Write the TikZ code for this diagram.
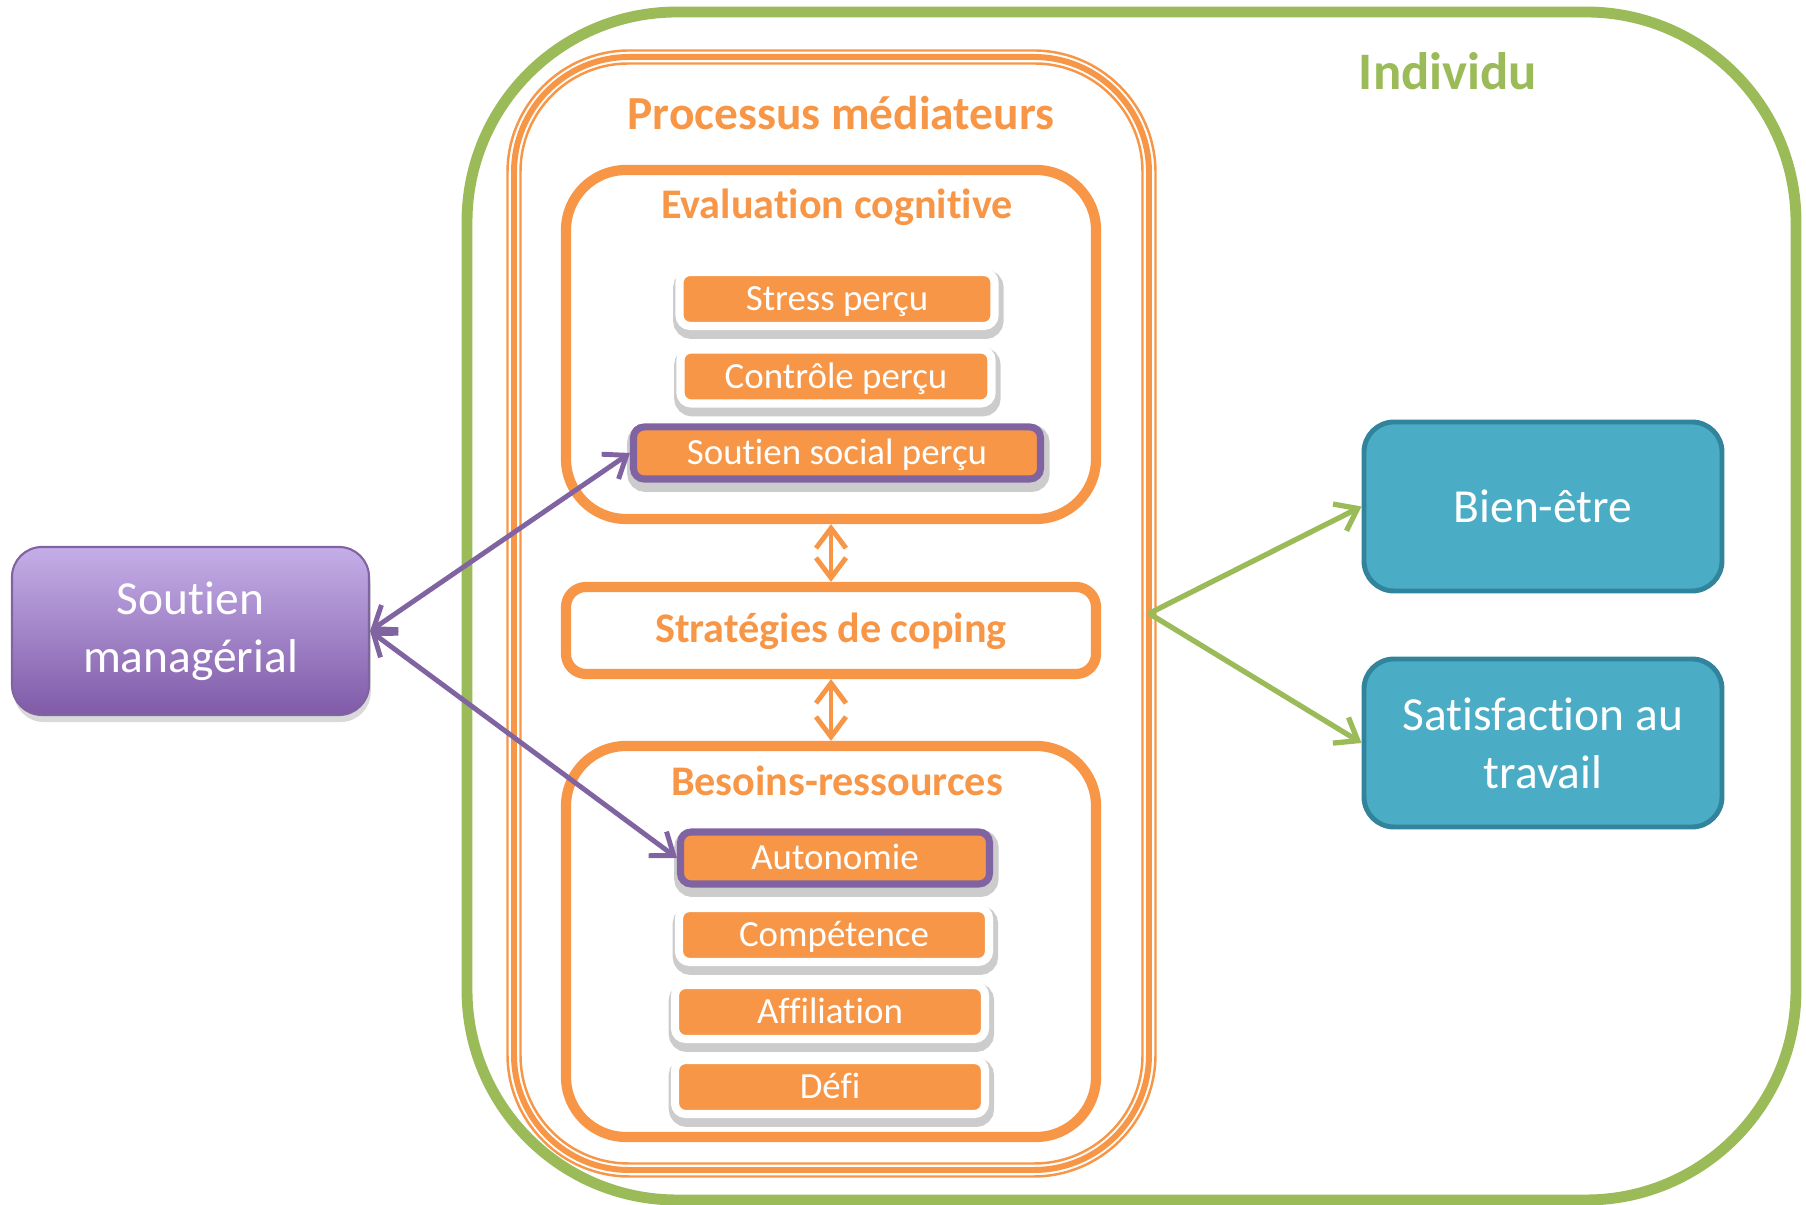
\documentclass[tikz,border=0pt]{standalone}
\usepackage{fontspec}
\setmainfont{Carlito}[Ligatures=NoCommon]
\usepackage{tikz}
\usetikzlibrary{
  arrows.meta,
  positioning,
  shadows
}

\definecolor{accorange}{HTML}{F79646}
\definecolor{accgreen}{HTML}{9BBB59}
\definecolor{accpurple}{HTML}{8064A2}
\definecolor{lightpurple}{HTML}{C5AEE8}
\definecolor{deeppurple}{HTML}{7F5BA8}
\definecolor{accteal}{HTML}{4BACC6}
\definecolor{darkteal}{HTML}{31849B}

\begin{document}
\begin{tikzpicture}[
  frame/.style={
    rectangle,
    draw=accorange,
    line width=2.9pt,
    rounded corners=#1,
    inner sep=0pt,
    outer sep=auto,
  },
  frame/.default=0.6cm,
  title/.style={
    font=\fontsize{12}{14}\selectfont\bfseries,
    text=accorange,
  },
  softshadow/.style={
    preaction={
      draw=black,
      draw opacity=0.2,
      line width=4.4pt,
      transform canvas={xshift=0.4pt, yshift=-1.5pt},
    },
  },
  item/.style={
    rectangle,
    fill=accorange,
    draw=white,
    line width=2.3pt,
    rounded corners=3pt,
    minimum width=#1,
    minimum height=0.54cm,
    inner sep=0pt,
    outer sep=auto,
    text=white,
    text height=0.66em,
    text depth=0pt,
    font=\fontsize{10.5}{12}\selectfont,
    softshadow,
  },
  item/.default=3.1cm,
  keyitem/.style={
    item=#1,
    draw=accpurple,
    line width=2pt,
    minimum height=0.52cm,
  },
  bigbox/.style={
    rectangle,
    rounded corners=0.3cm,
    minimum width=3.58cm,
    minimum height=1.68cm,
    align=center,
    text=white,
    outer sep=auto,
    font=\fontsize{13.5}{16.5}\selectfont,
  },
  link/.style={
    {Straight Barb[length=2mm, width=3mm]}-{Straight Barb[length=2mm, width=3mm]},
    line width=1.4pt,
  },
  arrow/.style={
    -{Straight Barb[length=2mm, width=3mm]},
    line width=1.5pt,
  },
]
\useasboundingbox (0, 0) rectangle (18.06, -12.05);

% ── Individu frame ──
\node[draw=accgreen, line width=3.1pt, rounded corners=2.1cm,
  minimum width=13.29cm, minimum height=11.88cm] (indivbox) at (11.315, -6.06) {};
\node[font=\fontsize{15}{18}\selectfont\bfseries, text=accgreen] (indiv) at (14.48, -0.71) {Individu};

% ── Processus médiateurs (triple line) ──
\node[draw=accorange, line width=1.7pt, rounded corners=1.15cm, inner sep=0pt, outer sep=0pt,
  minimum width=6.35cm, minimum height=11.13cm] (med) at (8.315, -6.135) {};
\draw[accorange, line width=0.7pt, rounded corners=1.22cm]
  ([shift={(-0.065, 0.065)}]med.north west) rectangle ([shift={(0.065, -0.065)}]med.south east);
\draw[accorange, line width=0.7pt, rounded corners=1.08cm]
  ([shift={(0.065, -0.065)}]med.north west) rectangle ([shift={(-0.065, 0.065)}]med.south east);
\node[font=\fontsize{13.5}{16}\selectfont\bfseries, text=accorange] (medtitle) at (8.41, -1.13) {Processus médiateurs};

% ── Evaluation cognitive ──
\node[frame, minimum width=5.30cm, minimum height=3.49cm] (eval) at (8.31, -3.445) {};
\node[title] (evaltitle) at (8.37, -2.07) {Evaluation cognitive};
\node[item=3.15cm] (stress) at (8.37, -2.99) {Stress perçu};
\node[item=3.11cm] (controle) at (8.36, -3.765) {Contrôle perçu};
\node[keyitem=4.07cm] (soutsoc) at (8.37, -4.53) {Soutien social perçu};

% ── Stratégies de coping ──
\node[frame=0.2cm, title, text height=0.66em, text depth=0pt,
  minimum width=5.30cm, minimum height=0.87cm] (coping) at (8.31, -6.305) {Stratégies de coping};

% ── Besoins-ressources ──
\node[frame, minimum width=5.30cm, minimum height=3.91cm] (besoins) at (8.31, -9.415) {};
\node[title] (besoinstitle) at (8.37, -7.81) {Besoins-ressources};
\node[keyitem=3.09cm] (autonomie) at (8.35, -8.58) {Autonomie};
\node[item] (competence) at (8.34, -9.35) {Compétence};
\node[item] (affiliation) at (8.30, -10.12) {Affiliation};
\node[item] (defi) at (8.30, -10.87) {Défi};

% ── Outer boxes ──
\node[bigbox, top color=lightpurple, bottom color=deeppurple, draw=accpurple, line width=0.6pt,
  minimum width=3.57cm,
  drop shadow={shadow xshift=0.5pt, shadow yshift=-2pt, opacity=0.3}] (manag) at (1.905, -6.31) {Soutien\\managérial};
\node[bigbox, fill=accteal, draw=darkteal, line width=1.4pt, minimum height=1.69cm] (bien) at (15.43, -5.065) {Bien-être};
\node[bigbox, fill=accteal, draw=darkteal, line width=1.4pt] (satis) at (15.43, -7.43) {Satisfaction au\\travail};

% ── Arrows ──
\draw[link, accorange] (eval) -- (coping);
\draw[link, accorange] (coping) -- (besoins);
\draw[link, accpurple] (manag.east) -- (soutsoc.west);
\draw[link, accpurple] (manag.east) -- (autonomie.west);
\draw[arrow, accgreen] (med.east) -- (bien.west);
\draw[arrow, accgreen] (med.east) -- (satis.west);

\end{tikzpicture}
\end{document}
